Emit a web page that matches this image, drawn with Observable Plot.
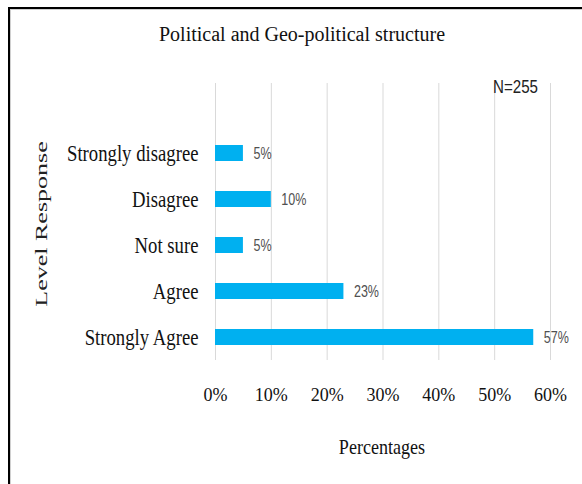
<!DOCTYPE html>
<html><head><meta charset="utf-8">
<script src="https://cdn.jsdelivr.net/npm/d3@7"></script>
<script src="https://cdn.jsdelivr.net/npm/@observablehq/plot@0.6"></script>
<style>
body{margin:0;background:#fff;}
#wrap{position:relative;width:582px;height:484px;overflow:hidden;background:#fff;}
#frame{position:absolute;left:7.5px;top:6.5px;right:-20px;bottom:-20px;border-left:2.5px solid #000;border-top:2.5px solid #000;box-shadow:inset 1px 1px 0 #d0d0d0;pointer-events:none;}
.lbl{position:absolute;white-space:nowrap;color:#111;}
#title{left:302px;top:24px;font:20px "Liberation Serif","Times New Roman",serif;line-height:20px;transform:translate(-50%,0);}
#note{left:493px;top:78px;font:18px "Liberation Sans",Arial,sans-serif;line-height:18px;color:#222;transform:scaleX(0.84);transform-origin:0 0;}
#xlab{left:382px;top:437px;font:21px "Liberation Serif","Times New Roman",serif;line-height:21px;transform:translate(-50%,0) scaleX(0.86);}
#ylab{left:42px;top:224px;font:26px "Liberation Serif","Times New Roman",serif;line-height:26px;color:#222;transform:translate(-50%,-50%) rotate(-90deg) scaleY(0.62);}
#chart{position:absolute;left:0;top:0;}
</style></head>
<body>
<div id="wrap">
  <div id="chart"></div>
  <div id="frame"></div>
  <div class="lbl" id="title">Political and Geo-political structure</div>
  <div class="lbl" id="note">N=255</div>
  <div class="lbl" id="xlab">Percentages</div>
  <div class="lbl" id="ylab">Level Response</div>
</div>
<script>
const categories = ["Strongly disagree", "Disagree", "Not sure", "Agree", "Strongly Agree"];
const values = [5, 10, 5, 23, 57];
const xTicks = [0, 10, 20, 30, 40, 50, 60];

const data = categories.map((c, i) => ({category: c, value: values[i]}));

const chart = Plot.plot({
  width: 582,
  height: 484,
  marginLeft: 215,
  marginRight: 32,
  marginTop: 83,
  marginBottom: 124,
  style: {fontFamily: "'Liberation Serif','Times New Roman',serif", background: "transparent"},
  x: {domain: [0, 60], ticks: xTicks, tickFormat: d => d + "%", label: null},
  y: {domain: categories, paddingInner: 0.643, paddingOuter: 0.32, insetTop: 47, label: null},
  marks: [
    Plot.gridX(xTicks, {stroke: "#d9d9d9", strokeOpacity: 1, strokeWidth: 1}),
    Plot.barX(data, {x: "value", y: "category", fill: "#00b0f0"}),
    Plot.text(data, {x: "value", y: "category", text: d => d.value + "%", textAnchor: "start", dx: 10,
      fill: "#505050", fontSize: 16.5, fontFamily: "'Liberation Sans',Arial,sans-serif"}),
    Plot.axisX({ticks: xTicks, tickFormat: d => d + "%", tickSize: 0, tickPadding: 28, fontSize: 18,
      label: null, fill: "#111"}),
    Plot.axisY({tickSize: 0, tickPadding: 17, fontSize: 24, label: null, fill: "#111"})
  ]
});
document.getElementById("chart").appendChild(chart);

// horizontally condense texts about their own anchor point
function squish(texts, s) {
  texts.forEach(t => {
    const prev = t.getAttribute("transform") || "";
    const xa = t.getAttribute("x");
    const x = xa !== null && /^-?[\d.]+$/.test(xa.trim()) ? +xa : 0;
    t.setAttribute("transform", `${prev} translate(${x},0) scale(${s},1) translate(${-x},0)`.trim());
  });
}
squish(chart.querySelectorAll('[aria-label="y-axis tick label"] text'), 0.78);
squish(chart.querySelectorAll('[aria-label="text"] text'), 0.76);
</script>
</body></html>
